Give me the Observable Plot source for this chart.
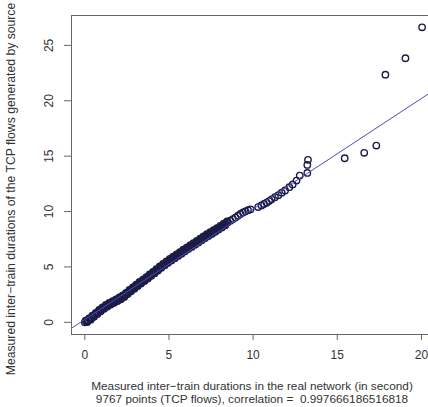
<!DOCTYPE html>
<html><head><meta charset="utf-8">
<script src="https://cdn.jsdelivr.net/npm/d3@7"></script>
<script src="https://cdn.jsdelivr.net/npm/@observablehq/plot@0.6"></script>
<style>html,body{margin:0;padding:0;background:#fff;overflow:hidden}</style>
</head><body><div id="chart"></div>
<script>
// measured inter-train durations in the real network (x) vs generated by source (y)
const realX = [
  0.0,0.1,0.2,0.3,0.4,0.5,0.6,0.7,0.8,0.9,
  1.0,1.1,1.2,1.3,1.4,1.5,1.6,1.7,1.8,1.9,
  2.0,2.1,2.2,2.3,2.4,2.5,2.6,2.7,2.8,2.9,
  3.0,3.1,3.2,3.3,3.4,3.5,3.6,3.7,3.8,3.9,
  4.0,4.1,4.2,4.3,4.4,4.5,4.6,4.7,4.8,4.9,
  5.0,5.1,5.2,5.3,5.4,5.5,5.6,5.7,5.8,5.9,
  6.0,6.1,6.2,6.3,6.4,6.5,6.6,6.7,6.8,6.9,
  7.0,7.1,7.2,7.3,7.4,7.5,7.6,7.7,7.8,7.9,
  8.0,8.1,8.2,8.3,8.4,8.5,
  8.65,8.8,8.95,9.1,9.25,9.4,9.55,9.7,9.85,
  10.3,10.5,10.65,10.8,10.95,11.1,11.3,11.5,11.7,11.9,
  12.15,12.35,12.58,12.77,13.22,13.22,13.26,
  15.44,16.6,17.32,17.86,19.05,20.04
];
const sourceY = [
  0.00,0.08,0.18,0.30,0.42,0.55,0.68,0.80,0.93,1.05,
  1.17,1.28,1.40,1.50,1.60,1.68,1.76,1.84,1.92,2.00,
  2.08,2.15,2.24,2.35,2.47,2.60,2.73,2.86,2.98,3.10,
  3.22,3.34,3.46,3.57,3.68,3.79,3.90,4.02,4.14,4.26,
  4.38,4.50,4.62,4.74,4.86,4.98,5.10,5.22,5.33,5.44,
  5.55,5.66,5.76,5.86,5.96,6.06,6.16,6.26,6.37,6.48,
  6.58,6.68,6.78,6.88,6.98,7.08,7.18,7.28,7.38,7.48,
  7.58,7.68,7.78,7.87,7.96,8.05,8.14,8.24,8.34,8.44,
  8.54,8.64,8.74,8.84,8.94,9.04,
  9.18,9.32,9.46,9.62,9.78,9.92,10.02,10.12,10.20,
  10.40,10.55,10.68,10.80,10.95,11.10,11.30,11.48,11.70,11.90,
  12.20,12.45,12.80,13.25,13.49,14.21,14.67,
  14.81,15.30,15.96,22.36,23.84,26.63
];
// further points inside the dense band (its spread above / below the centre)
const bandX = [
  0.05,0.15,0.25,0.35,0.45,0.55,0.65,0.75,0.85,0.95,
  1.05,1.15,1.25,1.35,1.45,1.55,1.65,1.75,1.85,1.95,
  2.05,2.15,2.25,2.35,2.45,2.55,2.65,2.75,2.85,2.95,
  3.05,3.15,3.25,3.35,3.45,3.55,3.65,3.75,3.85,3.95,
  4.05,4.15,4.25,4.35,4.45,4.55,4.65,4.75,4.85,4.95,
  5.05,5.15,5.25,5.35,5.45,5.55,5.65,5.75,5.85,5.95,
  6.05,6.15,6.25,6.35,6.45,6.55,6.65,6.75,6.85,6.95,
  7.05,7.15,7.25,7.35,7.45,7.55,7.65,7.75,7.85,7.95,
  8.05,8.15,8.25,8.35,8.45
];
const bandY = [
  0.16,0.02,0.36,0.24,0.61,0.50,0.86,0.75,1.11,0.99,
  1.35,1.22,1.57,1.43,1.76,1.60,1.92,1.76,2.08,1.92,
  2.24,2.08,2.42,2.29,2.66,2.55,2.92,2.80,3.16,3.04,
  3.40,3.28,3.64,3.51,3.86,3.73,4.08,3.96,4.32,4.20,
  4.56,4.44,4.80,4.68,5.04,4.92,5.28,5.16,5.51,5.38,
  5.73,5.59,5.93,5.79,6.13,5.99,6.33,6.20,6.55,6.41,
  6.75,6.61,6.95,6.81,7.15,7.01,7.35,7.21,7.55,7.41,
  7.75,7.61,7.95,7.80,8.13,7.98,8.31,8.17,8.51,8.37,
  8.71,8.57,8.91,8.77,9.11
];
const xTicks = [0, 5, 10, 15, 20];
const yTicks = [0, 5, 10, 15, 20, 25];
const xDomain = [-0.79, 20.42];
const yDomain = [-1.1, 27.7];
const fitIntercept = 0.25;
const fitSlope = 0.998;
const xLabel = "Measured inter\u2212train durations in the real network (in second)";
const caption = "9767 points (TCP flows), correlation =  0.997666186516818";
const yLabel = "Measured inter\u2212train durations of the TCP flows generated by source";

const points = realX.map((x, i) => ({x, y: sourceY[i]}))
  .concat(bandX.map((x, i) => ({x, y: bandY[i]})));
const fit = xDomain.map(x => ({x, y: fitIntercept + fitSlope * x}));

const chart = Plot.plot({
  width: 428, height: 407,
  marginLeft: 71, marginRight: 0, marginTop: 15, marginBottom: 73,
  style: {fontFamily: "'Liberation Sans', Arial, sans-serif", fontSize: "12px", background: "#fff", color: "#333"},
  x: {domain: xDomain, axis: null},
  y: {domain: yDomain, axis: null},
  marks: [
    Plot.dot(points, {x: "x", y: "y", r: 3.2, stroke: "#1c1c44", strokeWidth: 1.4, fill: "none"}),
    Plot.line(fit, {x: "x", y: "y", stroke: "#4a4acc", strokeWidth: 1, clip: true}),
    Plot.ruleX([xDomain[0]], {stroke: "#666"}),
    Plot.ruleY([yDomain[0], yDomain[1]], {stroke: "#666"}),
    Plot.axisX(xTicks, {tickSize: 6, tickPadding: 10, stroke: "#666", fill: "#333", fontSize: 12, label: null}),
    Plot.axisY(yTicks, {tickSize: 7, tickFormat: () => "", stroke: "#666", label: null}),
    Plot.text(yTicks, {y: d => d, text: d => String(d), frameAnchor: "left", dx: -22, rotate: -90, textAnchor: "middle", lineAnchor: "middle", fill: "#333", fontSize: 12}),
    Plot.text([xLabel], {frameAnchor: "bottom", dx: 2, dy: 52, text: d => d, textAnchor: "middle", fill: "#333", fontSize: 11.8, lineAnchor: "middle"}),
    Plot.text([caption], {frameAnchor: "bottom", dx: 2, dy: 65, text: d => d, textAnchor: "middle", fill: "#333", fontSize: 11.8, lineAnchor: "middle"}),
    Plot.text([yLabel], {frameAnchor: "left", dx: -60, dy: 14, rotate: -90, text: d => d, textAnchor: "middle", fill: "#333", fontSize: 12.2, lineAnchor: "middle"})
  ]
});
document.getElementById("chart").appendChild(chart);
</script>
</body></html>
